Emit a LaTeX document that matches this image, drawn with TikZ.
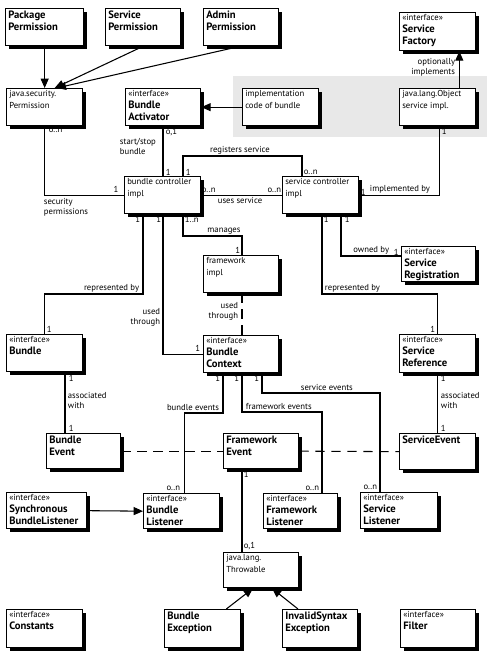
\documentclass[tikz,border=0pt]{standalone}
\usepackage{fontspec}
\setmainfont{PT Sans}
\usetikzlibrary{arrows.meta,shadows,calc}
\newcommand{\iface}{{\fontsize{6.5}{9}\selectfont «interface»}}
\newcommand{\ubox}[7][boxtext]{%
  \node[box, minimum width={(#5-#3)*0.75pt}, minimum height={(#6-#4)*0.75pt}] (#2) at (#3,#4) {};
  \node[#1] (#2t) at ($(#2.north west)+(3,2.5)$) {#7};}
\begin{document}
\begin{tikzpicture}[x=0.75pt,y=-0.75pt,
  box/.style={draw, line width=1pt, fill=white, inner sep=0pt, anchor=north west,
    drop shadow={shadow xshift=2.6pt, shadow yshift=-2.6pt, fill=black, opacity=1}},
  boxtext/.style={anchor=north west, inner sep=0pt, align=left, font=\fontsize{8}{9}\selectfont},
  lighttext/.style={boxtext, font=\fontsize{6.5}{9}\selectfont},
  lbl/.style={inner sep=0.5pt, font=\fontsize{6.5}{7.5}\selectfont, align=left},
  conn/.style={line width=0.8pt},
  arr/.style={line width=0.8pt, -{Triangle[length=7pt,width=6pt]}},
  dsh/.style={line width=0.8pt, dash pattern=on 7pt off 5pt}]
\useasboundingbox[fill=white] (0,0) rectangle (490,660);
\fill[gray!18] (233,76) rectangle (487,137);

\ubox{pkg}{5}{8}{83}{45}{\textbf{Package}\\\textbf{Permission}}
\ubox{svcp}{105}{8}{180}{45}{\textbf{Service}\\\textbf{Permission}}
\ubox{adm}{203}{8}{278}{45}{\textbf{Admin}\\\textbf{Permission}}
\ubox{sf}{399}{12}{475}{50}{\iface\\\textbf{Service}\\\textbf{Factory}}
\ubox[lighttext]{jsp}{6}{88}{82}{125}{java.security.\\Permission}
\ubox{ba}{125}{88}{200}{125}{\iface\\\textbf{Bundle}\\\textbf{Activator}}
\ubox[lighttext]{impl}{242}{88}{318}{125}{implementation\\code of bundle}
\ubox[lighttext]{obj}{399}{88}{475}{125}{java.lang.Object\\service impl.}
\ubox[lighttext]{bc}{124}{176}{200}{213}{bundle controller\\impl}
\ubox[lighttext]{sc}{282}{176}{358}{213}{service controller\\impl}
\ubox{sr}{401}{246}{475}{281}{\iface\\\textbf{Service}\\\textbf{Registration}}
\ubox[lighttext]{fw}{203}{255}{278}{292}{framework\\impl}
\ubox{bun}{6}{334}{82}{371}{\iface\\\textbf{Bundle}}
\ubox{ctx}{203}{335}{278}{372}{\iface\\\textbf{Bundle}\\\textbf{Context}}
\ubox{sref}{399}{334}{475}{372}{\iface\\\textbf{Service}\\\textbf{Reference}}
\ubox{be}{46}{433}{120}{468}{\textbf{Bundle}\\\textbf{Event}}
\ubox{fe}{223}{433}{298}{468}{\textbf{Framework}\\\textbf{Event}}
\ubox{se}{399}{433}{475}{469}{\textbf{ServiceEvent}}
\ubox{sbl}{6}{492}{86}{528}{\iface\\\textbf{Synchronous}\\\textbf{BundleListener}}
\ubox{bl}{143}{493}{219}{528}{\iface\\\textbf{Bundle}\\\textbf{Listener}}
\ubox{fl}{263}{493}{337}{528}{\iface\\\textbf{Framework}\\\textbf{Listener}}
\ubox{sl}{360}{492}{437}{528}{\iface\\\textbf{Service}\\\textbf{Listener}}
\ubox[lighttext]{thr}{223}{552}{298}{587}{java.lang.\\Throwable}
\ubox{const}{6}{609}{82}{647}{\iface\\\textbf{Constants}}
\ubox{bex}{164}{609}{240}{647}{\textbf{Bundle}\\\textbf{Exception}}
\ubox{ise}{282}{609}{357}{647}{\textbf{InvalidSyntax}\\\textbf{Exception}}
\ubox{flt}{400}{609}{475}{647}{\iface\\\textbf{Filter}}

% generalisations
\draw[arr] (pkg.south) -- (jsp.north);
\draw[arr] ($(svcp.south west)+(38,0)$) -- ($(jsp.north)+(10,0)$);
\draw[arr] ($(adm.south west)+(37,0)$) -- ($(jsp.north)+(12,0)$);
\draw[arr] (impl.west) -- (ba.east);
\draw[arr] ($(obj.north east)+(-17,0)$) -- ($(sf.south east)+(-17,0)$);
\draw[arr] (sbl.east) -- (bl.west);
\draw[arr] ($(bex.north east)+(-15,0)$) -- ($(thr.south west)+(30,0)$);
\draw[arr] ($(ise.north west)+(16,0)$) -- ($(thr.south west)+(49,0)$);

% associations
\draw[conn] (jsp.south) |- (bc.west);
\draw[conn] ($(ba.south west)+(38,0)$) -- ($(bc.north west)+(39,0)$);
\draw[conn] ($(bc.north west)+(59,0)$) |- ($(sc.north west)+(20,-20)$) -- ($(sc.north west)+(20,0)$);
\draw[conn] (bc.east) -- (sc.west);
\draw[conn] (sc.east) -| ($(obj.south east)+(-37,0)$);
\draw[conn] ($(bc.south west)+(19,0)$) |- ($(bun.north)+(0,-40)$) -- (bun.north);
\draw[conn] ($(bc.south west)+(39,0)$) |- (ctx.west);
\draw[conn] ($(bc.south west)+(59,0)$) |- ($(fw.north west)+(39,-19)$) -- ($(fw.north west)+(39,0)$);
\draw[dsh] ($(fw.south west)+(39,0)$) -- ($(ctx.north west)+(39,0)$);
\draw[conn] ($(sc.south west)+(40,0)$) |- ($(sref.north)+(0,-40)$) -- (sref.north);
\draw[conn] ($(sc.south west)+(59,0)$) |- ($(sr.north west)+(0,10)$);
\draw[conn] ($(bun.south west)+(59,0)$) -- ($(be.north west)+(19,0)$);
\draw[conn] (sref.south) -- (se.north);
\draw[conn] ($(ctx.south west)+(20,0)$) |- ($(bl.north east)+(-36,-80)$) -- ($(bl.north east)+(-36,0)$);
\draw[conn] ($(ctx.south west)+(39,0)$) |- ($(fl.north west)+(59,-81)$) -- ($(fl.north west)+(59,0)$);
\draw[conn] ($(ctx.south west)+(59,0)$) |- ($(sl.north west)+(20,-99)$) -- ($(sl.north west)+(20,0)$);
\draw[dsh] (be.east) -- (fe.west);
\draw[dsh] (fe.east) -- (se.west);
\draw[conn] ($(fe.south west)+(19,0)$) -- ($(thr.north west)+(19,0)$);

% labels
\node[lbl, anchor=south east, align=right] (l1) at (456,77) {optionally\\implements};
\node[lbl, anchor=north west] (l2) at (48,127) {o..n};
\node[lbl, anchor=south] (l3) at (116,193) {1};
\node[lbl, anchor=north west] (l4) at (43,197) {security\\permissions};
\node[lbl, anchor=north west] (l5) at (165,127) {o,1};
\node[lbl, anchor=north west] (l6) at (119,137) {start/stop\\bundle};
\node[lbl, anchor=south west] (l7) at (165,176) {1};
\node[lbl, anchor=south west] (l8) at (185,176) {1};
\node[lbl, anchor=south] (l9) at (240,155) {registers service};
\node[lbl, anchor=south west] (l10) at (303,176) {o..n};
\node[lbl, anchor=south west] (l11) at (201,194) {o..n};
\node[lbl, anchor=south east] (l12) at (282,194) {o..n};
\node[lbl, anchor=north] (l13) at (240,196) {uses service};
\node[lbl, anchor=south west] (l14) at (360,196) {1};
\node[lbl, anchor=south west] (l15) at (369,194) {implemented by};
\node[lbl, anchor=north west] (l16) at (441,127) {1};
\node[lbl, anchor=north east] (l17) at (141,215) {1};
\node[lbl, anchor=north east] (l18) at (162,215) {1};
\node[lbl, anchor=north west] (l19) at (184,215) {1..n};
\node[lbl, anchor=south east] (l20) at (140,293) {represented by};
\node[lbl, anchor=south west] (l21) at (46,333) {1};
\node[lbl, anchor=south east, align=right] (l22) at (161,327) {used\\through};
\node[lbl, anchor=south east] (l23) at (201,352) {1};
\node[lbl, anchor=south] (l24) at (224,235) {manages};
\node[lbl, anchor=south east] (l25) at (241,254) {1};
\node[lbl, anchor=east, align=right] (l26) at (239,311) {used\\through};
\node[lbl, anchor=north west] (l27) at (323,215) {1};
\node[lbl, anchor=north west] (l28) at (344,215) {1};
\node[lbl, anchor=south east] (l29) at (390,255) {owned by};
\node[lbl, anchor=south west] (l30) at (393,256) {1};
\node[lbl, anchor=south west] (l31) at (324,293) {represented by};
\node[lbl, anchor=south east] (l32) at (436,333) {1};
\node[lbl, anchor=north west] (l33) at (68,374) {1};
\node[lbl, anchor=north west] (l34) at (67,391) {associated\\with};
\node[lbl, anchor=south west] (l35) at (68,432) {1};
\node[lbl, anchor=north west] (l36) at (440,374) {1};
\node[lbl, anchor=north west] (l37) at (440,391) {associated\\with};
\node[lbl, anchor=south west] (l38) at (440,432) {1};
\node[lbl, anchor=north east] (l39) at (221,374) {1};
\node[lbl, anchor=north east] (l40) at (240,374) {1};
\node[lbl, anchor=north east] (l41) at (260,374) {1};
\node[lbl, anchor=south east] (l42) at (220,412) {bundle events};
\node[lbl, anchor=south west] (l43) at (245,411) {framework events};
\node[lbl, anchor=south west] (l44) at (300,392) {service events};
\node[lbl, anchor=south east] (l45) at (181,492) {o..n};
\node[lbl, anchor=south east] (l46) at (320,492) {o..n};
\node[lbl, anchor=south east] (l47) at (378,491) {o..n};
\node[lbl, anchor=north west] (l48) at (243,470) {1};
\node[lbl, anchor=south west] (l49) at (243,551) {o,1};
\end{tikzpicture}
\end{document}
